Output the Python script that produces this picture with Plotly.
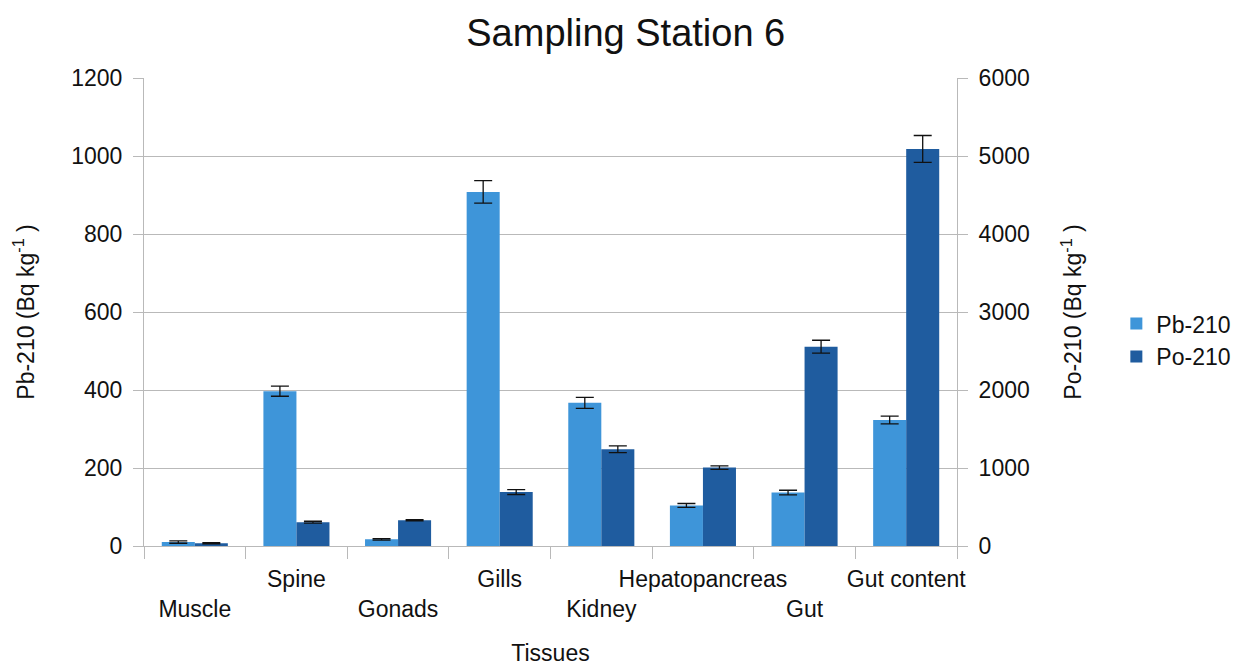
import plotly.graph_objects as go

categories = ["Muscle", "Spine", "Gonads", "Gills", "Kidney", "Hepatopancreas", "Gut", "Gut content"]
pb210 = [10, 397, 17, 908, 367, 104, 137, 323]
pb210_err = [3, 13, 2, 29, 14, 5, 6, 10]
po210 = [35, 305, 330, 692, 1240, 1005, 2555, 5090]
po210_err = [8, 12, 8, 32, 43, 22, 83, 173]

tick_text = [("<br>" if i % 2 == 0 else "") + c for i, c in enumerate(categories)]

FONT = "Liberation Sans, Arial, Helvetica, sans-serif"
GRID = "#b9b9b9"
FS = 23

fig = go.Figure()
fig.add_trace(go.Bar(
    x=categories, y=pb210, name="Pb-210", marker_color="#3e95d9",
    marker_line_width=0, offsetgroup="1", yaxis="y",
    error_y=dict(type="data", array=pb210_err, color="#111111", thickness=1.3, width=9),
))
fig.add_trace(go.Bar(
    x=categories, y=po210, name="Po-210", marker_color="#1f5c9f",
    marker_line_width=0, offsetgroup="2", yaxis="y2",
    error_y=dict(type="data", array=po210_err, color="#111111", thickness=1.3, width=9),
))

fig.update_layout(
    width=1248, height=666,
    margin=dict(l=136, r=299, t=70, b=128),
    paper_bgcolor="white", plot_bgcolor="white",
    font=dict(family=FONT, size=FS, color="#111111"),
    barmode="group", bargap=0.35, bargroupgap=0,
    title=dict(text="Sampling Station 6", x=0.495, xref="container", xanchor="center",
               y=0.9625, yref="container", yanchor="middle",
               font=dict(size=38, family=FONT, color="#111111")),
    xaxis=dict(
        type="category", tickmode="array", tickvals=categories, ticktext=tick_text,
        tickson="boundaries", ticks="outside", ticklen=12, tickcolor=GRID,
        showline=True, linecolor=GRID, linewidth=1, showgrid=False,
        tickangle=0, automargin=False,
        tickfont=dict(size=FS), ticklabelstandoff=12,
        title=dict(text="Tissues", font=dict(size=FS), standoff=24),
    ),
    yaxis=dict(
        range=[0, 1200], dtick=200, tick0=0, ticks="outside", ticklen=10, tickcolor=GRID,
        showline=True, linecolor=GRID, showgrid=True, gridcolor=GRID, gridwidth=1,
        zeroline=False, tickfont=dict(size=FS), ticklabelstandoff=6, automargin=False,
        title=dict(text="Pb-210 (Bq kg<sup>-1</sup> )", font=dict(size=FS), standoff=30),
    ),
    yaxis2=dict(
        range=[0, 6000], dtick=1000, tick0=0, overlaying="y", side="right",
        ticks="outside", ticklen=10, tickcolor=GRID,
        showline=True, linecolor=GRID, showgrid=False, zeroline=False,
        tickfont=dict(size=FS), ticklabelstandoff=6, automargin=False,
        title=dict(text="Po-210 (Bq kg<sup>-1</sup> )", font=dict(size=FS), standoff=36),
    ),
    legend=dict(x=1.196, xanchor="left", y=0.44, yanchor="middle",
                font=dict(size=FS), bgcolor="rgba(0,0,0,0)", tracegroupgap=0),
    showlegend=True,
)

fig.write_html("out.html")
